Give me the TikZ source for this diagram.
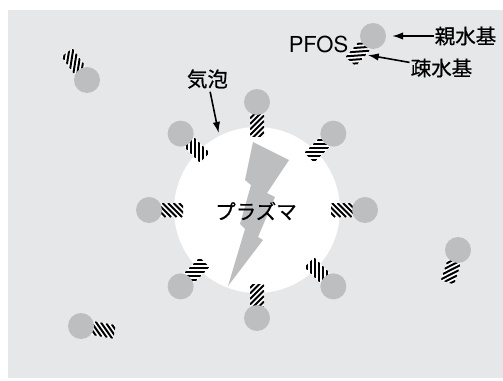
\documentclass[tikz,border=0pt]{standalone}
\usepackage{fontspec}
\setmainfont{TeX Gyre Heros}
\newfontfamily\jpfont{Noto Sans CJK JP}[FakeBold=0.6]
\usetikzlibrary{arrows.meta}

\definecolor{water}{HTML}{E6E7E8}
\definecolor{headgray}{HTML}{BDBEC0}

% surfactant: round head at (#2,#3), striped tail pointing at angle #4
\newcommand{\surfactant}[4]{%
  \begin{scope}[shift={({#2},{#3})}, rotate=#4]
    \coordinate (#1-tail) at (23,0);
    \begin{scope}
      \clip (12,-7) rectangle (34,7);
      \fill[white] (12,-7) rectangle (34,7);
      \foreach \s in {0,...,7} \draw[stripe] (11+\s*5.5,7) -- ++(-14,-14);
    \end{scope}
  \end{scope}
  \node[head] (#1) at ({#2},{#3}) {};
}

\begin{document}
\begin{tikzpicture}[
  x=1pt, y=-1pt,
  head/.style={circle, fill=headgray, minimum size=26pt, inner sep=0pt},
  stripe/.style={line width=2pt, black},
  jptext/.style={font=\jpfont\fontsize{20.5}{24}\selectfont, inner sep=1pt},
  pointer/.style={-{Latex[length=11pt,width=7.5pt]}, line width=1.6pt}]
  \useasboundingbox (0,0) rectangle (503,380);
  \fill[water] (8,10) rectangle (503,378);

  % bubble with the discharge inside
  \node[circle, fill=white, minimum size=166pt, inner sep=0pt] (bubble) at (257,210) {};
  \fill[headgray] (253,142) -- (289,160) -- (267,193) -- (275,197) -- (258,237)
    -- (263,240) -- (228,286) -- (245,229) -- (240,224) -- (251,185)
    -- (245,180) -- cycle;
  \node[jptext] (plasma) at (256,211) {プラズマ};

  % molecules around the bubble, tails pointing inward
  \foreach \ang [count=\i] in {0,45,...,315}
    {\surfactant{m\i}{257+108*cos(\ang)}{210-108*sin(\ang)}{\ang+180}}

  % free molecules in the water
  \surfactant{f1}{87}{80}{126}
  \surfactant{f2}{458}{250}{252}
  \surfactant{f3}{81}{326}{-10}
  \surfactant{pfos}{373}{36}{229}

  \node[jptext] (bubblelabel) at (207.5,79) {気泡};
  \node[font=\fontsize{22}{26}\selectfont, inner sep=1pt] (pfoslabel) at (318.5,44.5) {PFOS};
  \node[jptext] (philic) at (465.5,36) {親水基};
  \node[jptext] (phobic) at (441.5,68) {疎水基};

  \draw[pointer, shorten <=2pt, shorten >=3pt] (bubblelabel) -- (bubble.117);
  \draw[pointer, shorten >=6pt] (philic) -- (pfos);
  \draw[pointer, shorten >=10pt] (phobic) -- (pfos-tail);
\end{tikzpicture}
\end{document}
